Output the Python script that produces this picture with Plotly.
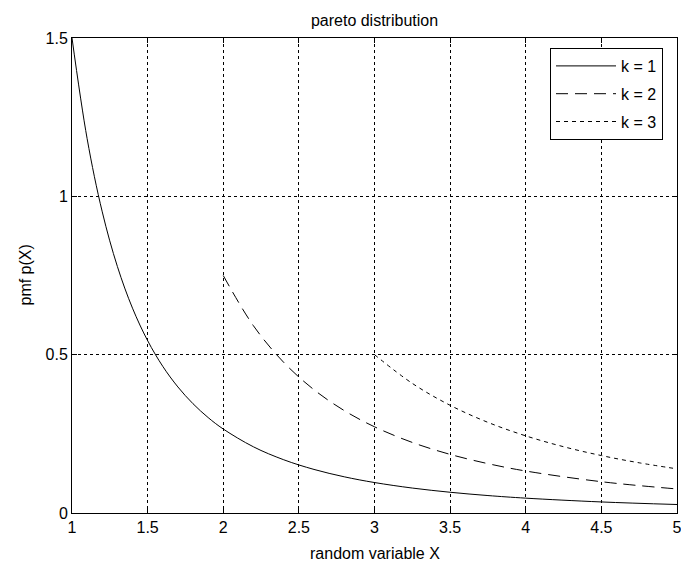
import plotly.graph_objects as go

# values (pareto pdf curves)
x_k1 = [1.0, 1.1, 1.2, 1.3, 1.4, 1.5, 1.6, 1.7, 1.8, 1.9, 2.0, 2.2, 2.4, 2.6, 2.8, 3.0, 3.25, 3.5, 3.75, 4.0, 4.5, 5.0]
y_k1 = [1.5, 1.182, 0.951, 0.7785, 0.6468, 0.5443, 0.4632, 0.3981, 0.3451, 0.3014, 0.2652, 0.2089, 0.1681, 0.1376, 0.1143, 0.0962, 0.0788, 0.0655, 0.0551, 0.0469, 0.0349, 0.0268]
x_k2 = [2.0, 2.2, 2.4, 2.6, 2.8, 3.0, 3.25, 3.5, 3.75, 4.0, 4.5, 5.0]
y_k2 = [0.75, 0.591, 0.4755, 0.3892, 0.3234, 0.2722, 0.2228, 0.1851, 0.1558, 0.1326, 0.0988, 0.0759]
x_k3 = [3.0, 3.25, 3.5, 3.75, 4.0, 4.25, 4.5, 4.75, 5.0]
y_k3 = [0.5, 0.4093, 0.3401, 0.2862, 0.2436, 0.2093, 0.1814, 0.1585, 0.1394]

x_ticks = [1, 1.5, 2, 2.5, 3, 3.5, 4, 4.5, 5]
x_tick_labels = ["1", "1.5", "2", "2.5", "3", "3.5", "4", "4.5", "5"]
y_ticks = [0, 0.5, 1, 1.5]
y_tick_labels = ["0", "0.5", "1", "1.5"]

FONT = "Liberation Sans, Arial, sans-serif"
W, H = 681, 565
L, R, T, B = 72, 4, 38, 52

fig = go.Figure()
fig.add_trace(go.Scatter(x=x_k1, y=y_k1, mode="lines", name="k = 1", legendgroup="a",
                         line=dict(color="black", width=1, shape="spline")))
fig.add_trace(go.Scatter(x=x_k2, y=y_k2, mode="lines", name="k = 2", legendgroup="b",
                         line=dict(color="black", width=1, shape="spline", dash="12px,7px")))
fig.add_trace(go.Scatter(x=x_k3, y=y_k3, mode="lines", name="k = 3", legendgroup="c",
                         line=dict(color="black", width=1, shape="spline", dash="4px,4px")))

axis_common = dict(showline=True, linecolor="black", linewidth=1, mirror="ticks",
                   ticks="inside", ticklen=5, tickcolor="black",
                   showgrid=True, gridcolor="black", gridwidth=1, griddash="3px,3px",
                   zeroline=False, ticklabeloverflow="allow", automargin=False,
                   tickfont=dict(family=FONT, size=16, color="black"))

fig.update_xaxes(range=[1, 5], tickvals=x_ticks, ticktext=x_tick_labels, **axis_common)
fig.update_yaxes(range=[0, 1.5], tickvals=y_ticks, ticktext=y_tick_labels, **axis_common)

ph = H - T - B
pw = W - L - R
fig.update_layout(
    width=W, height=H,
    margin=dict(l=L, r=R, t=T, b=B, autoexpand=False),
    paper_bgcolor="white", plot_bgcolor="white",
    font=dict(family=FONT, size=16, color="black"),
    title=dict(text="pareto distribution", x=(L + pw / 2) / W, xanchor="center",
               y=1 - 20 / H, yanchor="middle", yref="container",
               font=dict(family=FONT, size=16, color="black")),
    showlegend=True,
    legend=dict(x=(663 - L) / pw, xanchor="right", y=(H - B - 48) / ph, yanchor="top",
                bgcolor="white", bordercolor="black", borderwidth=1,
                itemwidth=60, traceorder="grouped", tracegroupgap=4,
                font=dict(family=FONT, size=16, color="black")),
    annotations=[
        dict(text="random variable X", xref="paper", yref="paper",
             x=0.5, y=(H - B - 553) / ph, xanchor="center", yanchor="middle",
             showarrow=False, font=dict(family=FONT, size=16, color="black")),
        dict(text="pmf p(X)", xref="paper", yref="paper",
             x=(25 - L) / pw, y=0.5, xanchor="center", yanchor="middle", textangle=-90,
             showarrow=False, font=dict(family=FONT, size=16, color="black")),
    ],
)

fig.write_html("out.html")
